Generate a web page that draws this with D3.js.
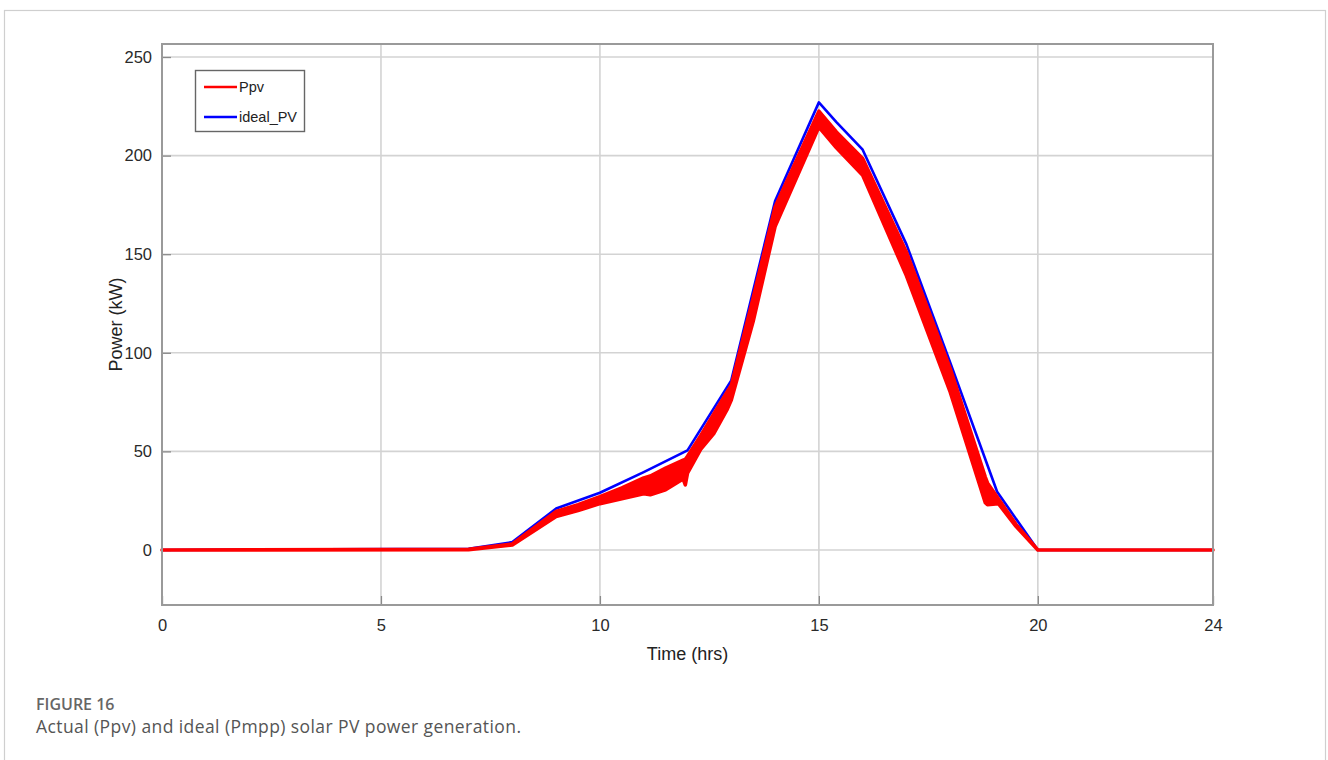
<!DOCTYPE html>
<html>
<head>
<meta charset="utf-8">
<script src="https://cdn.jsdelivr.net/npm/d3@7/dist/d3.min.js"></script>
<style>
  html, body { margin: 0; padding: 0; background: #fff; }
  svg { display: block; }
</style>
</head>
<body>
<svg id="chart" width="1328" height="760"></svg>
<script>
// ---- data ----
const xTicks = [0, 5, 10, 15, 20, 24];
const yTicks = [0, 50, 100, 150, 200, 250];
const xGrid = [5, 10, 15, 20];

// ideal PV (blue)
const idealHours = [0, 7, 8, 9, 10, 11, 12, 13, 14, 15, 15.4, 16, 17, 18, 19.07, 20, 24];
const idealPV    = [0, 0.6, 4, 21, 29, 39.5, 50.5, 86, 177, 227, 217, 203, 155, 95, 29.5, 0, 0];

// actual Ppv (red) – upper and lower envelope of the noisy band
const pvHours = [0, 7, 8, 9, 9.5, 10, 10.5, 11, 11.15, 11.5, 11.9, 11.95, 12, 12.3, 12.6, 12.9, 13, 13.5, 14, 15, 15.4, 16, 17, 18, 18.8, 18.85, 19.1, 19.5, 20, 24];
const pvUpper = [0, 0.3, 3, 19.5, 23, 27, 31.5, 36.5, 37.5, 41.5, 45.5, 46, 47.5, 58, 69, 80, 83.5, 128, 174, 222.5, 212, 198.5, 151, 92, 37, 34, 26, 13, 0, 0];
const pvLower = [0, 0.2, 2.5, 17, 20, 23.5, 26, 28.5, 28, 30.5, 36, 33, 39, 51, 59, 71, 76, 116, 164, 214.5, 204, 190, 139, 80, 24, 23, 23.5, 12, 0, 0];

const seriesNames = ["Ppv", "ideal_PV"];
const seriesColors = ["#ff0000", "#0000ff"];

// ---- layout ----
const svg = d3.select("#chart");
const plot = { left: 162, right: 1213, top: 44, bottom: 605 };

const x = d3.scaleLinear().domain([0, 24]).range([plot.left, plot.right]);
const y = d3.scaleLinear().domain([-27.9, 256.6]).range([plot.bottom, plot.top]);

const sans = "'Liberation Sans', Arial, sans-serif";

// outer frame
svg.append("rect")
  .attr("x", 4.5).attr("y", 10.5).attr("width", 1321).attr("height", 780)
  .attr("fill", "none").attr("stroke", "#cfcfcf").attr("stroke-width", 1.2);

// grid
const grid = svg.append("g").attr("stroke", "#d3d3d3").attr("stroke-width", 1.6);
grid.selectAll("line.h").data(yTicks).join("line")
  .attr("class", "h")
  .attr("x1", plot.left).attr("x2", plot.right)
  .attr("y1", d => y(d)).attr("y2", d => y(d));
grid.selectAll("line.v").data(xGrid).join("line")
  .attr("class", "v")
  .attr("y1", plot.top).attr("y2", plot.bottom)
  .attr("x1", d => x(d)).attr("x2", d => x(d));

// axes with D3 (ticks inside, MATLAB style)
const axisColor = "#9a9a9a";
const gx = svg.append("g").attr("transform", `translate(0,${plot.bottom})`)
  .call(d3.axisBottom(x).tickValues(xTicks).tickSize(-9).tickPadding(14).tickFormat(d3.format("d")));
const gy = svg.append("g").attr("transform", `translate(${plot.left},0)`)
  .call(d3.axisLeft(y).tickValues(yTicks).tickSize(-9).tickPadding(10).tickFormat(d3.format("d")));
[gx, gy].forEach(g => {
  g.select(".domain").remove();
  g.selectAll(".tick line").attr("stroke", "#8a8a8a").attr("stroke-width", 1.3);
  g.selectAll(".tick text").attr("fill", "#2a2a2a")
    .style("font-family", sans).style("font-size", "16.5px");
});

// lines
const lineIdeal = d3.line().x((d, i) => x(idealHours[i])).y(d => y(d));
svg.append("path").datum(idealPV)
  .attr("d", lineIdeal)
  .attr("fill", "none").attr("stroke", seriesColors[1]).attr("stroke-width", 2.6)
  .attr("stroke-linejoin", "round");

const pvArea = d3.area()
  .x((d, i) => x(pvHours[i]))
  .y0((d, i) => y(pvLower[i]))
  .y1((d, i) => y(pvUpper[i]));
svg.append("path").datum(pvUpper)
  .attr("d", pvArea)
  .attr("fill", seriesColors[0]).attr("stroke", seriesColors[0]).attr("stroke-width", 3.6)
  .attr("stroke-linejoin", "round");

// axis box
svg.append("rect")
  .attr("x", plot.left).attr("y", plot.top)
  .attr("width", plot.right - plot.left).attr("height", plot.bottom - plot.top)
  .attr("fill", "none").attr("stroke", axisColor).attr("stroke-width", 2);

// axis labels
svg.append("text")
  .attr("x", (plot.left + plot.right) / 2).attr("y", 660)
  .attr("text-anchor", "middle")
  .style("font-family", sans).style("font-size", "18px")
  .attr("fill", "#222").text("Time (hrs)");
svg.append("text")
  .attr("transform", `translate(122,${(plot.top + plot.bottom) / 2}) rotate(-90)`)
  .attr("text-anchor", "middle")
  .style("font-family", sans).style("font-size", "18px")
  .attr("fill", "#222").text("Power (kW)");

// legend
const lg = svg.append("g");
lg.append("rect").attr("x", 195.5).attr("y", 70.5).attr("width", 109).attr("height", 61)
  .attr("fill", "#fff").attr("stroke", "#666").attr("stroke-width", 1.4);
const legendY = [87, 117];
seriesNames.forEach((name, i) => {
  lg.append("line").attr("x1", 204).attr("x2", 237)
    .attr("y1", legendY[i]).attr("y2", legendY[i])
    .attr("stroke", seriesColors[i]).attr("stroke-width", 2.6);
  lg.append("text").attr("x", 239).attr("y", legendY[i] + 5)
    .style("font-family", sans).style("font-size", "14.5px")
    .attr("fill", "#222").text(name);
});

// caption
svg.append("text").attr("x", 36).attr("y", 710)
  .style("font-family", "'Open Sans', 'Noto Sans', sans-serif").style("font-size", "16px")
  .attr("font-weight", 600).attr("fill", "#666").text("FIGURE 16");
svg.append("text").attr("x", 36).attr("y", 733)
  .style("font-family", "'Open Sans', 'Noto Sans', sans-serif").style("font-size", "17.5px")
  .attr("textLength", 485).attr("lengthAdjust", "spacing")
  .attr("fill", "#555").text("Actual (Ppv) and ideal (Pmpp) solar PV power generation.");
</script>
</body>
</html>
